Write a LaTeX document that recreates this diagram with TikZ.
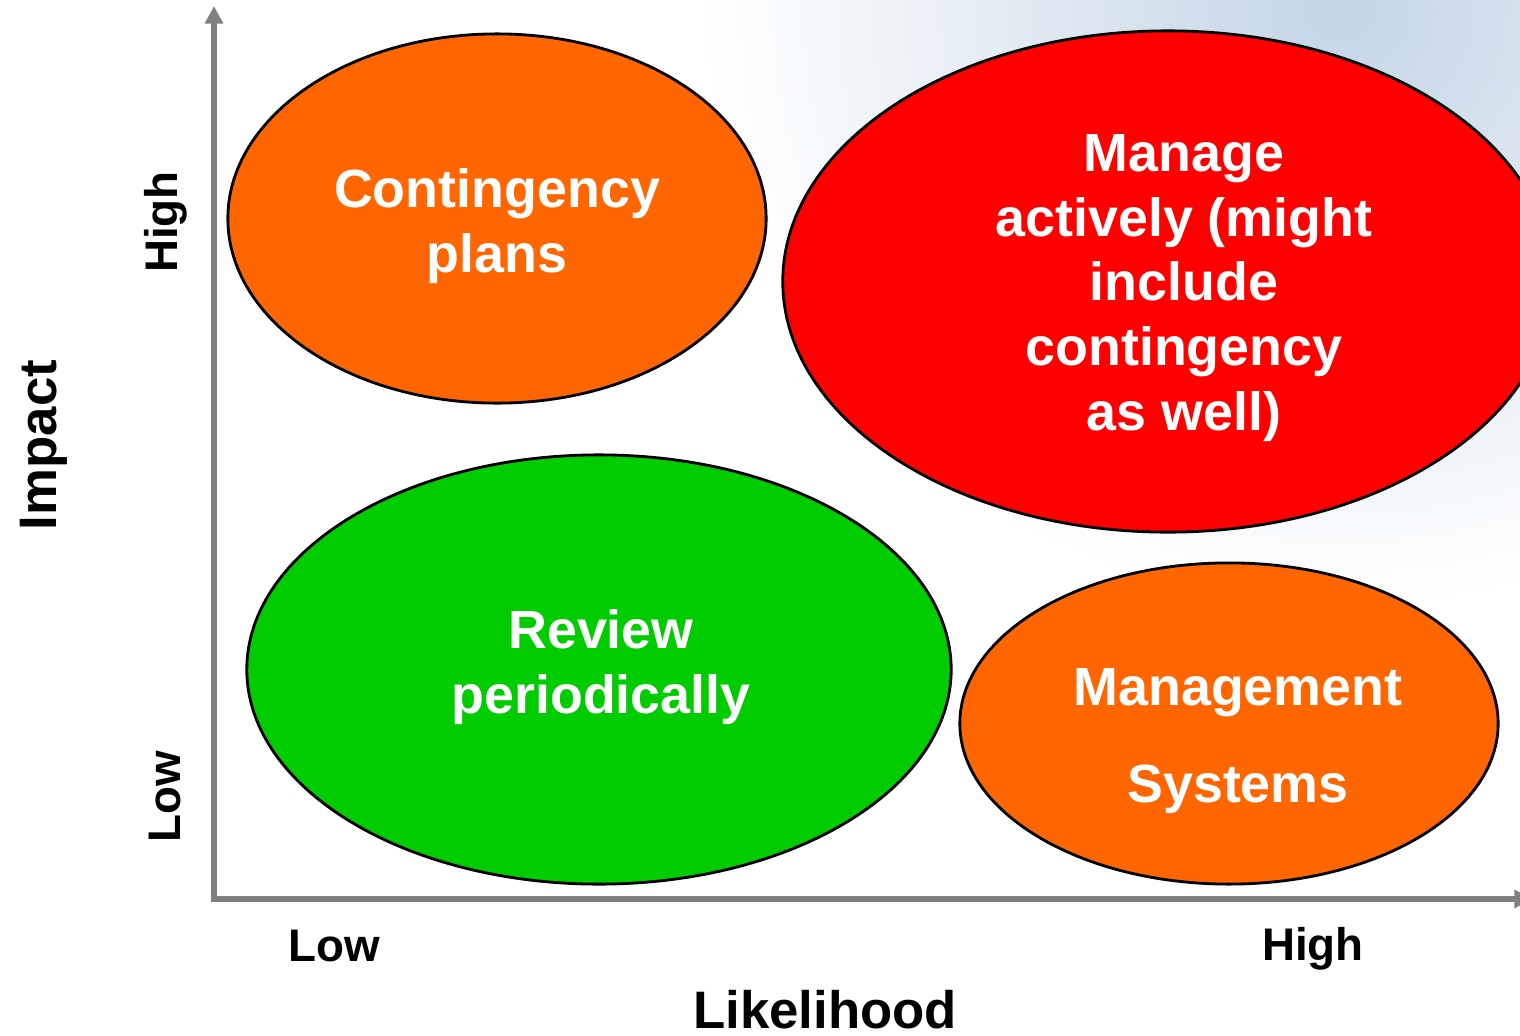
\documentclass[tikz,border=0pt]{standalone}
\usepackage{fontspec}
\setmainfont{Liberation Sans}
\usetikzlibrary{arrows.meta,shapes.geometric}
\definecolor{riskorange}{HTML}{FF6600}
\definecolor{riskred}{HTML}{FF0000}
\definecolor{riskgreen}{HTML}{00CC00}
\definecolor{axisgray}{HTML}{808080}
\definecolor{glowblue}{HTML}{C4D5E6}
\tikzset{
    blob/.style={ellipse, draw=black, line width=0.8pt, inner sep=0pt},
    blobtext/.style={align=center, text=white, font=\fontsize{15.3}{18.4}\selectfont\bfseries},
    axislabel/.style={font=\fontsize{15}{18}\selectfont\bfseries},
    ticklabel/.style={font=\fontsize{13}{15}\selectfont\bfseries}
}
\begin{document}
\begin{tikzpicture}[x=0.01cm, y=-0.01cm]
    \useasboundingbox (0,0) rectangle (1520,1036);
    % Background glow
    \begin{scope}
        \clip (0,0) rectangle (1520,1036);
        \shade[inner color=glowblue, outer color=white] (1340,10) ellipse[x radius=640, y radius=600];
    \end{scope}
    % Draw axes
    \coordinate (ytop) at (214, 6);
    \coordinate (origin) at (214, 899);
    \coordinate (xend) at (1532, 899);
    \draw [line width=1.5pt, axisgray, {Triangle[length=5pt, width=5pt]}-{Triangle[length=5pt, width=5pt]}] (ytop) -- (origin) -- (xend);
    % Quadrants
    \node [blob, fill=riskorange, minimum width=5.38cm, minimum height=3.69cm] (contingency) at (497, 218.5) {};
    \node [blob, fill=riskred, minimum width=7.70cm, minimum height=5.01cm] (manage) at (1168, 281.5) {};
    \node [blob, fill=riskgreen, minimum width=7.04cm, minimum height=4.29cm] (review) at (599, 669.5) {};
    \node [blob, fill=riskorange, minimum width=5.38cm, minimum height=3.21cm] (mgmt) at (1229, 723.5) {};
    \node [blobtext] (contingencytxt) at (497, 226) {Contingency\\plans};
    \node [blobtext] (managetxt) at (1184, 288) {Manage\\actively (might\\include\\contingency\\as well)};
    \node [blobtext] (reviewtxt) at (601, 667) {Review\\periodically};
    \node [blobtext, font=\fontsize{15.3}{27.5}\selectfont\bfseries] (mgmttxt) at (1238, 741) {Management\\Systems};
    % Axis labels
    \node [ticklabel, rotate=90] (yhigh) at (166, 222) {High};
    \node [ticklabel, rotate=90] (ylow) at (165, 797) {Low};
    \node [axislabel, rotate=90] (impact) at (44, 445) {Impact};
    \node [ticklabel] (xlow) at (334, 946) {Low};
    \node [ticklabel] (xhigh) at (1313, 949) {High};
    \node [axislabel, anchor=base, inner sep=0pt] (likelihood) at (825, 1028) {Likelihood};
\end{tikzpicture}
\end{document}
